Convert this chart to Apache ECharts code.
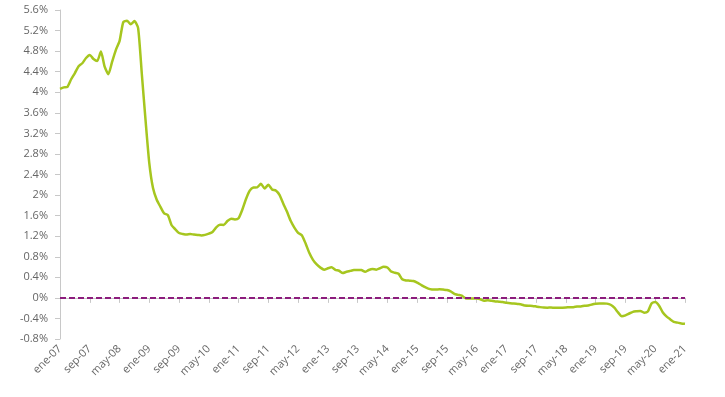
<!DOCTYPE html>
<html>
<head>
<meta charset="utf-8">
<script src="https://cdn.jsdelivr.net/npm/echarts@6/dist/echarts.min.js"></script>
<style>
  html, body { margin: 0; padding: 0; background: #fff; }
  #chart { width: 725px; height: 397px; }
</style>
</head>
<body>
<div id="chart"></div>
<script>
const monthNames = ['ene', 'feb', 'mar', 'abr', 'may', 'jun', 'jul', 'ago', 'sep', 'oct', 'nov', 'dic']
const years = [7, 8, 9, 10, 11, 12, 13, 14, 15, 16, 17, 18, 19, 20]

// etiquetas mensuales ene-07 ... ene-21
const categories = []
years.forEach(y => monthNames.forEach(m => categories.push(m + '-' + String(y).padStart(2, '0'))))
categories.push('ene-21')

// valores mensuales (%)
const rates = [
  4.064, 4.094, 4.106, 4.253, 4.373, 4.505, 4.564, 4.666, 4.725, 4.647, 4.607, 4.793,
  4.498, 4.349, 4.590, 4.820, 4.994, 5.361, 5.393, 5.323, 5.384, 5.248, 4.350, 3.452,
  2.622, 2.135, 1.909, 1.771, 1.644, 1.610, 1.412, 1.334, 1.261, 1.243, 1.231, 1.242,
  1.232, 1.225, 1.215, 1.225, 1.249, 1.281, 1.373, 1.421, 1.420, 1.495, 1.541, 1.526,
  1.550, 1.714, 1.924, 2.086, 2.147, 2.150, 2.220, 2.130, 2.200, 2.110, 2.090, 2.004,
  1.837, 1.678, 1.499, 1.368, 1.266, 1.219, 1.061, 0.877, 0.740, 0.650, 0.588, 0.549,
  0.575, 0.594, 0.545, 0.528, 0.484, 0.507, 0.525, 0.542, 0.543, 0.541, 0.506, 0.543,
  0.562, 0.549, 0.577, 0.604, 0.592, 0.513, 0.488, 0.469, 0.362, 0.338, 0.335, 0.329,
  0.298, 0.255, 0.212, 0.180, 0.165, 0.163, 0.167, 0.161, 0.154, 0.128, 0.079, 0.059,
  0.042, -0.008, -0.012, -0.010, -0.013, -0.028, -0.056, -0.048, -0.057, -0.069, -0.074, -0.080,
  -0.095, -0.106, -0.110, -0.119, -0.127, -0.149, -0.154, -0.156, -0.168, -0.180, -0.189, -0.190,
  -0.189, -0.191, -0.191, -0.190, -0.188, -0.181, -0.180, -0.169, -0.166, -0.154, -0.147, -0.129,
  -0.116, -0.108, -0.109, -0.112, -0.134, -0.190, -0.283, -0.356, -0.339, -0.304, -0.272, -0.261,
  -0.253, -0.288, -0.266, -0.108, -0.081, -0.147, -0.279, -0.359, -0.415, -0.466, -0.481, -0.497,
  -0.505
]

const yMin = -0.8
const yMax = 5.6
const yStep = 0.4

const chart = echarts.init(document.getElementById('chart'))
chart.setOption({
  animation: false,
  textStyle: { fontFamily: 'Open Sans' },
  grid: { left: 60, right: 40, top: 10, bottom: 58 },
  xAxis: {
    type: 'category',
    data: categories,
    boundaryGap: false,
    axisLine: { lineStyle: { color: '#c8c8c8' } },
    axisTick: { interval: 7, length: 5, lineStyle: { color: '#c8c8c8' } },
    axisLabel: { interval: 7, rotate: 45, color: '#666', fontSize: 11, margin: 8 }
  },
  yAxis: {
    type: 'value',
    min: yMin,
    max: yMax,
    interval: yStep,
    splitLine: { show: false },
    axisLine: { show: true, lineStyle: { color: '#c8c8c8' } },
    axisTick: { show: true, length: 5, lineStyle: { color: '#c8c8c8' } },
    axisLabel: {
      color: '#666',
      fontSize: 11,
      margin: 12,
      formatter: v => (Math.round(v * 10) / 10) + '%'
    }
  },
  series: [
    {
      type: 'line',
      data: rates,
      showSymbol: false,
      smooth: 0.2,
      lineStyle: { color: '#a6c61f', width: 2.5 },
      markLine: {
        silent: true,
        symbol: 'none',
        label: { show: false },
        lineStyle: { color: '#8c1c7c', type: [6, 3], width: 2 },
        data: [{ yAxis: 0 }]
      }
    }
  ]
})
</script>
</body>
</html>
